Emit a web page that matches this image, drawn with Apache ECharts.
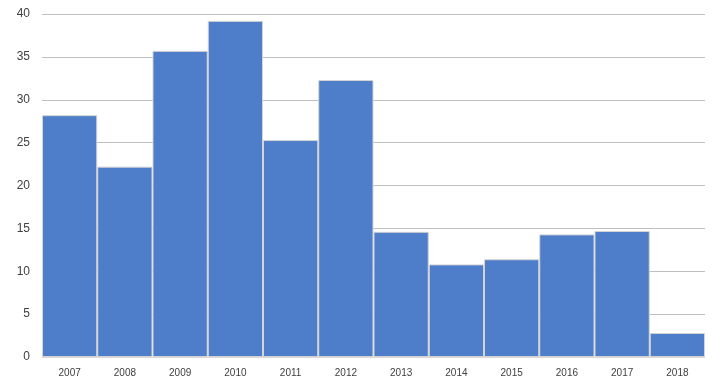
<!DOCTYPE html>
<html>
<head>
<meta charset="utf-8">
<script src="https://cdn.jsdelivr.net/npm/echarts@6/dist/echarts.min.js"></script>
<style>html,body{margin:0;padding:0;background:#fff;}#c{width:721px;height:390px;}</style>
</head>
<body>
<div id="c"></div>
<script>
const categories = ['2007','2008','2009','2010','2011','2012','2013','2014','2015','2016','2017','2018'];
const values = [28.2, 22.2, 35.7, 39.2, 25.3, 32.3, 14.6, 10.8, 11.4, 14.3, 14.7, 2.8];
const yTicks = [0, 5, 10, 15, 20, 25, 30, 35, 40];

const chart = echarts.init(document.getElementById('c'));
chart.setOption({
  animation: false,
  backgroundColor: '#ffffff',
  grid: { left: 42, right: 16, top: 14, bottom: 33 },
  xAxis: {
    type: 'category',
    data: categories,
    axisTick: { show: false },
    axisLine: { lineStyle: { color: '#d9d9d9', width: 1 } },
    axisLabel: { color: '#404040', fontSize: 10, fontFamily: 'Liberation Sans', margin: 11 }
  },
  yAxis: {
    type: 'value',
    min: yTicks[0],
    max: yTicks[yTicks.length - 1],
    interval: 5,
    axisLine: { show: false },
    axisTick: { show: false },
    splitLine: { lineStyle: { color: '#bfbfbf', width: 1 } },
    axisLabel: { color: '#404040', fontSize: 12, fontFamily: 'Liberation Sans', margin: 12 }
  },
  series: [{
    type: 'bar',
    data: values,
    barCategoryGap: '0%',
    itemStyle: { color: '#4e7dc9', borderColor: '#d4d4d4', borderWidth: 1 }
  }]
});
</script>
</body>
</html>
